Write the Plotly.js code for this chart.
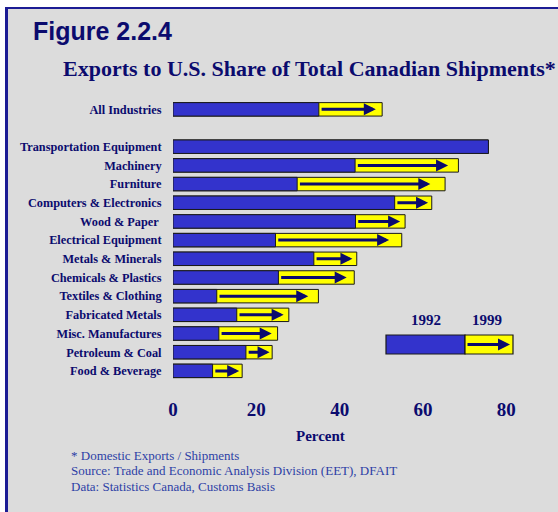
<!DOCTYPE html>
<html>
<head>
<meta charset="utf-8">
<script src="https://cdn.plot.ly/plotly-3.0.1.min.js"></script>
<style>
  html, body { margin: 0; padding: 0; background: #ffffff; overflow: hidden; }
  #frame { position: absolute; left: 5px; top: 7px; width: 800px; height: 800px;
           background: #dcdcdc; border-top: 2px solid #1c1c94; border-left: 3px solid #1c1c94; }
  #chart { position: absolute; left: 0; top: 0; width: 558px; height: 512px; }
</style>
</head>
<body>
<div id="frame"></div>
<div id="chart"></div>
<script>
// ---- data ----
const categories = ["All Industries", "Transportation Equipment", "Machinery", "Furniture",
  "Computers & Electronics", "Wood & Paper ", "Electrical Equipment", "Metals & Minerals",
  "Chemicals & Plastics", "Textiles & Clothing", "Fabricated Metals", "Misc. Manufactures",
  "Petroleum & Coal", "Food & Beverage"];
const share1992 = [35.0, 75.7, 43.7, 29.8, 53.2, 43.8, 24.6, 33.8, 25.3, 10.5, 15.3, 11.0, 17.5, 9.5];
const share1999 = [50.2, 75.7, 68.5, 65.3, 62.1, 55.7, 54.9, 44.1, 43.5, 34.9, 27.8, 25.1, 23.8, 16.6];
const xTicks = [0, 20, 40, 60, 80];
const seriesNames = ["1992", "1999"];
const footnotes = ["* Domestic Exports / Shipments",
  "Source: Trade and Economic Analysis Division (EET), DFAIT",
  "Data: Statistics Canada, Customs Basis"];

// ---- layout helpers ----
const W = 558, H = 512;
const M = {l: 173, r: 10, t: 100, b: 123};
const PW = W - M.l - M.r, PH = H - M.t - M.b;
const px = v => (v - M.l) / PW;          // pixel x -> paper x
const py = v => (H - M.b - v) / PH;      // pixel y -> paper y

const NAVY = "#0b0b6e";
const BLUE = "#3333cc";
const YELLOW = "#ffff00";
const OUTLINE = "#1a1a1a";
const serifB = {family: "Liberation Serif, Times New Roman, serif", weight: "bold", color: NAVY};

const catOrder = [categories[0], " "].concat(categories.slice(1));

const traces = [
  {type: "bar", orientation: "h", y: categories, x: share1999, name: seriesNames[1],
   marker: {color: YELLOW, line: {color: OUTLINE, width: 1}}, width: 0.72, hoverinfo: "skip"},
  {type: "bar", orientation: "h", y: categories, x: share1992, name: seriesNames[0],
   marker: {color: BLUE, line: {color: OUTLINE, width: 1}}, width: 0.72, hoverinfo: "skip"}
];

const annotations = [];
categories.forEach((c, i) => {
  const a = share1992[i], b = share1999[i];
  if (b - a > 1) {
    annotations.push({xref: "x", yref: "y", axref: "x", ayref: "y",
      x: a + 0.9 * (b - a), y: c, ax: a + 0.3, ay: c, text: "",
      showarrow: true, arrowhead: 2, arrowsize: 0.8, arrowwidth: 3, arrowcolor: NAVY});
  }
});

// titles and notes
annotations.push({xref: "paper", yref: "paper", x: px(31), y: py(31), xanchor: "left", yanchor: "middle",
  text: "Figure 2.2.4", showarrow: false,
  font: {family: "Liberation Sans, Arial, sans-serif", size: 25, weight: "bold", color: NAVY}});
annotations.push({xref: "paper", yref: "paper", x: px(309), y: py(69), xanchor: "center", yanchor: "middle",
  text: "Exports to U.S. Share of Total Canadian Shipments*", showarrow: false,
  font: Object.assign({}, serifB, {size: 22})});
annotations.push({xref: "paper", yref: "paper", x: px(320), y: py(436), xanchor: "center", yanchor: "middle",
  text: "Percent", showarrow: false, font: Object.assign({}, serifB, {size: 15})});
footnotes.forEach((t, i) => {
  annotations.push({xref: "paper", yref: "paper", x: px(69), y: py(455 + 15.5 * i), xanchor: "left", yanchor: "middle",
    text: t, showarrow: false,
    font: {family: "Liberation Serif, Times New Roman, serif", size: 13, color: "#2d3fa6"}});
});

// legend key
const LG = {x0: 386, xm: 465, x1: 513, y0: 335, y1: 354};
annotations.push({xref: "paper", yref: "paper", x: px(426), y: py(320), xanchor: "center", yanchor: "middle",
  text: seriesNames[0], showarrow: false, font: Object.assign({}, serifB, {size: 15})});
annotations.push({xref: "paper", yref: "paper", x: px(487), y: py(320), xanchor: "center", yanchor: "middle",
  text: seriesNames[1], showarrow: false, font: Object.assign({}, serifB, {size: 15})});
annotations.push({xref: "paper", yref: "paper", axref: "paper", ayref: "paper",
  x: px(510), y: py((LG.y0 + LG.y1) / 2), ax: px(LG.xm + 1), ay: py((LG.y0 + LG.y1) / 2), text: "",
  showarrow: true, arrowhead: 2, arrowsize: 0.8, arrowwidth: 3, arrowcolor: NAVY});

const shapes = [
  {type: "rect", xref: "paper", yref: "paper", x0: px(LG.x0), x1: px(LG.xm), y0: py(LG.y1), y1: py(LG.y0),
   fillcolor: BLUE, line: {color: OUTLINE, width: 1.2}, layer: "below"},
  {type: "rect", xref: "paper", yref: "paper", x0: px(LG.xm), x1: px(LG.x1), y0: py(LG.y1), y1: py(LG.y0),
   fillcolor: YELLOW, line: {color: OUTLINE, width: 1.2}, layer: "below"}
];

const layout = {
  width: W, height: H, margin: M,
  paper_bgcolor: "rgba(0,0,0,0)", plot_bgcolor: "rgba(0,0,0,0)",
  barmode: "overlay", showlegend: false,
  xaxis: {range: [0, 90], tickvals: xTicks, showgrid: false, zeroline: false, showline: false,
    ticks: "outside", ticklen: 3, tickcolor: "rgba(0,0,0,0)",
    tickfont: Object.assign({}, serifB, {size: 19}), fixedrange: true},
  yaxis: {type: "category", categoryorder: "array", categoryarray: catOrder,
    range: [14.97, -0.5], showgrid: false, zeroline: false, showline: false,
    ticks: "outside", ticklen: 8, tickcolor: "rgba(0,0,0,0)",
    tickfont: Object.assign({}, serifB, {size: 12.3}), fixedrange: true},
  annotations: annotations, shapes: shapes
};

Plotly.newPlot("chart", traces, layout, {displayModeBar: false, staticPlot: true});
</script>
</body>
</html>
